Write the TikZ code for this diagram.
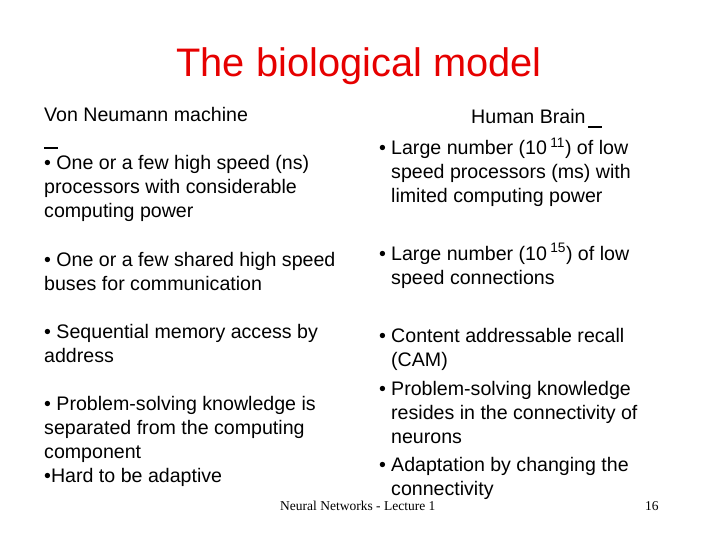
\documentclass[tikz,border=0pt]{standalone}
\usepackage{fontspec}
\setmainfont{Liberation Sans}
\newfontfamily\seriff{Liberation Serif}
\definecolor{titlered}{RGB}{230,0,0}
\tikzset{ln/.style={anchor=base west,inner sep=0pt,font=\fontsize{19.6}{22}\selectfont}}
\begin{document}
\begin{tikzpicture}[x=1pt,y=-1pt]
\useasboundingbox (0,0) rectangle (720,540);
\node[anchor=base,inner sep=0pt,text=titlered,font=\fontsize{39.8}{42}\selectfont] (title) at (359,77) {The biological model};
% left column
\node[ln] (l0) at (44,122) {Von Neumann machine};
\draw[line width=1.2pt] (44,148) -- (58,148);
\node[ln] (l1) at (44,170) {• One or a few high speed (ns)};
\node[ln] (l2) at (44,194) {processors with considerable};
\node[ln] (l3) at (44,218) {computing power};
\node[ln] (l4) at (44,266) {• One or a few shared high speed};
\node[ln] (l5) at (44,290) {buses for communication};
\node[ln] (l6) at (44,338) {• Sequential memory access by};
\node[ln] (l7) at (44,362) {address};
\node[ln] (l8) at (44,410) {• Problem-solving knowledge is};
\node[ln] (l9) at (44,434) {separated from the computing};
\node[ln] (l10) at (44,458) {component};
\node[ln] (l11) at (44,482) {•Hard to be adaptive};
% right column
\node[ln] (r0) at (471,124) {Human Brain};
\draw[line width=1.5pt] (r0.base east) ++(2,3) -- ++(14,0);
\node[ln] (rb1) at (379,155) {•};
\node[ln] (r1) at (391,155) {Large number (10\,\textsuperscript{11}) of low};
\node[ln] (r2) at (391,179) {speed processors (ms) with};
\node[ln] (r3) at (391,203) {limited computing power};
\node[ln] (rb2) at (379,260) {•};
\node[ln] (r4) at (391,260) {Large number (10\,\textsuperscript{15}) of low};
\node[ln] (r5) at (391,284) {speed connections};
\node[ln] (rb3) at (379,342) {•};
\node[ln] (r6) at (391,342) {Content addressable recall};
\node[ln] (r7) at (391,366) {(CAM)};
\node[ln] (rb4) at (379,395) {•};
\node[ln] (r8) at (391,395) {Problem-solving knowledge};
\node[ln] (r9) at (391,419) {resides in the connectivity of};
\node[ln] (r10) at (391,443) {neurons};
\node[ln] (rb5) at (379,471) {•};
\node[ln] (r11) at (391,471) {Adaptation by changing the};
\node[ln] (r12) at (391,495) {connectivity};
% footer
\node[anchor=base west,inner sep=0pt,font=\seriff\fontsize{13.5}{15}\selectfont] (foot) at (280,510) {Neural Networks - Lecture 1};
\node[anchor=base west,inner sep=0pt,font=\seriff\fontsize{13.5}{15}\selectfont] (pg) at (645,510) {16};
\end{tikzpicture}
\end{document}
